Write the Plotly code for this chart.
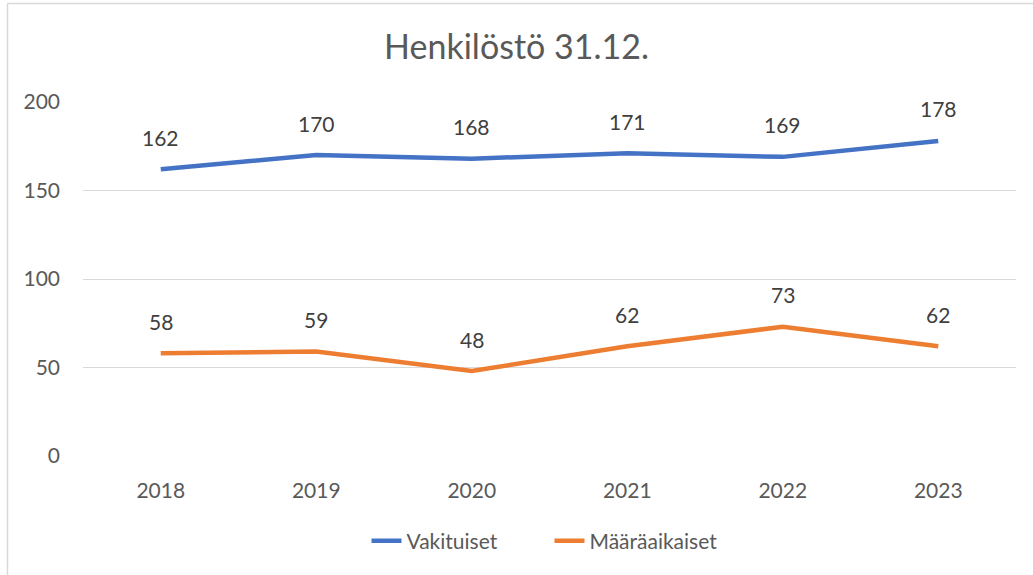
import plotly.graph_objects as go

years = ["2018", "2019", "2020", "2021", "2022", "2023"]
vakituiset = [162, 170, 168, 171, 169, 178]
maaraaikaiset = [58, 59, 48, 62, 73, 62]
title_text = "Henkilöstö 31.12."
series_names = ["Vakituiset", "Määräaikaiset"]
y_ticks = [0, 50, 100, 150, 200]

FONT = "Lato"
fig = go.Figure()
fig.add_trace(go.Scatter(x=years, y=vakituiset, name=series_names[0], mode="lines",
                         line=dict(color="#4472C4", width=4.5)))
fig.add_trace(go.Scatter(x=years, y=maaraaikaiset, name=series_names[1], mode="lines",
                         line=dict(color="#ED7D31", width=4.5)))

for vals in (vakituiset, maaraaikaiset):
    for i, v in enumerate(vals):
        fig.add_annotation(x=i, y=v, xref="x", yref="y", text=str(v), showarrow=False, yshift=32,
                           font=dict(family=FONT, size=21, color="#404040"))

fig.update_layout(
    width=1033, height=575,
    margin=dict(l=83, r=17, t=102, b=119),
    paper_bgcolor="white", plot_bgcolor="white",
    title=dict(text=title_text, x=0.5, xanchor="center", y=1 - 47 / 575, yanchor="middle",
               font=dict(family=FONT, size=34, color="#595959")),
    showlegend=True,
    legend=dict(orientation="h", x=0.5, xanchor="center", y=(456 - 541) / 354, yanchor="middle",
                font=dict(family=FONT, size=21, color="#595959"), entrywidth=138),
    xaxis=dict(type="category", range=[-0.5, 5.5], showgrid=False, showline=False, zeroline=False,
               tickfont=dict(family=FONT, size=21, color="#595959"), ticklabelstandoff=20),
    yaxis=dict(range=[0, 200], tickvals=y_ticks, showgrid=True, gridcolor="#d9d9d9", gridwidth=1.3,
               zeroline=False, showline=False,
               tickfont=dict(family=FONT, size=21, color="#595959"), ticklabelstandoff=22),
    shapes=[
        dict(type="line", xref="paper", yref="paper", x0=(7.5 - 83) / 933, x1=1.1,
             y0=(456 - 3.5) / 354, y1=(456 - 3.5) / 354, line=dict(color="#d9d9d9", width=1.5)),
        dict(type="line", xref="paper", yref="paper", x0=(7.5 - 83) / 933, x1=(7.5 - 83) / 933,
             y0=(456 - 3.5) / 354, y1=-0.5, line=dict(color="#d9d9d9", width=1.5)),
    ],
)
fig.write_html("out.html", config={"displayModeBar": False},
               post_script="document.body.style.margin='0px';")
